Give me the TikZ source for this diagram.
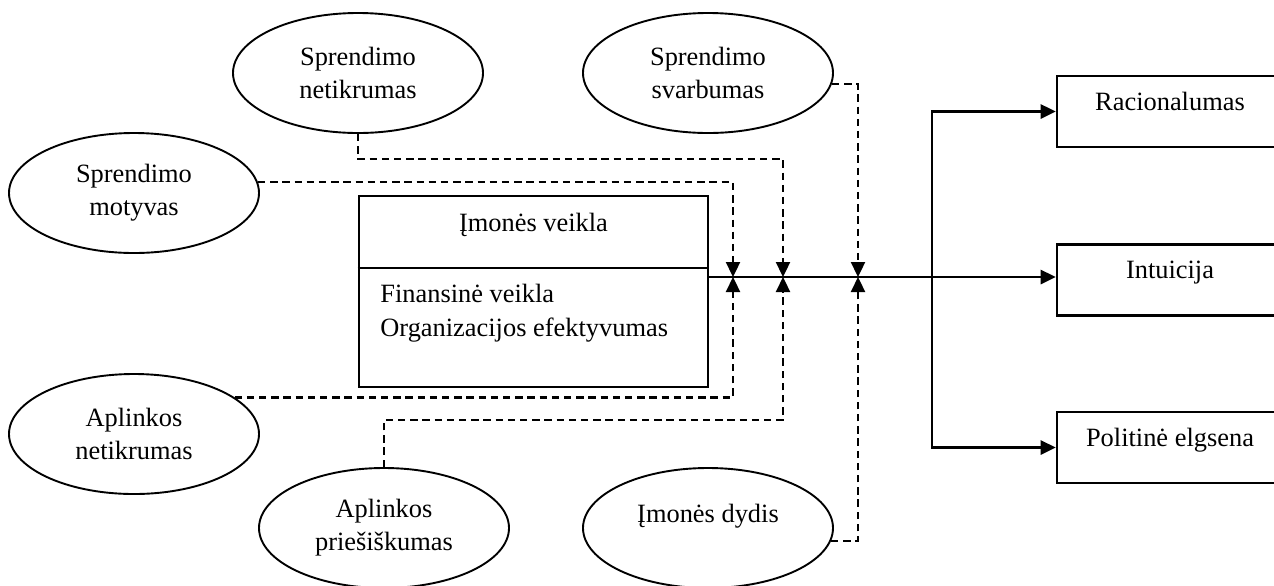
\documentclass[tikz,border=0pt]{standalone}
\usepackage{fontspec}
\setmainfont{Liberation Serif}
\usetikzlibrary{arrows.meta,shapes.geometric}
\begin{document}
\begin{tikzpicture}[x=0.5pt,y=-0.5pt,
  every node/.style={font=\fontsize{13.2}{16.5}\selectfont},
  ell/.style={draw,ellipse,line width=0.95pt,minimum width=125pt,minimum height=60pt,inner sep=0pt},
  twoline/.style={align=center},
  rbox/.style={draw,line width=1.3pt,minimum width=113pt,inner xsep=0pt,inner ysep=0pt,text height=17pt,text depth=18.5pt},
  dsh/.style={line width=1.15pt,dash pattern=on 3.7pt off 2.4pt},
  solidln/.style={line width=1.35pt},
  tip/.style={-{Triangle[length=7.5pt,width=7pt]}},
]
\useasboundingbox (0,0) rectangle (1274,585);
\clip (0,0) rectangle (1274,585);

% ellipses
\node[ell,twoline] (sn) at (358,73) {Sprendimo\\netikrumas};
\node[ell,twoline] (ss) at (708,73) {Sprendimo\\svarbumas};
\node[ell,twoline] (sm) at (134,193) {Sprendimo\\motyvas};
\node[ell,twoline] (an) at (134,434) {Aplinkos\\netikrumas};
\node[ell,twoline] (ap) at (384,528) {Aplinkos\\priešiškumas};
\node[ell,text height=8.5pt,text depth=14pt] (id) at (708,528) {Įmonės dydis};

% main box
\node[draw,line width=1.3pt,minimum width=174.5pt,minimum height=95.5pt,inner sep=0pt] (mb) at (533.5,291.5) {};
\coordinate (dv) at (0,268);
\draw[line width=1.3pt] (mb.west |- dv) -- (mb.east |- dv);
\node (mbt) at (533.5,225) {Įmonės veikla};
\node[anchor=north west,inner sep=0pt,align=left,font=\fontsize{13.2}{17.25}\selectfont] (mbb) at (380,283.5) {Finansinė veikla\\Organizacijos efektyvumas};

% right boxes
\node[rbox] (rac) at (1170,111.5) {Racionalumas};
\node[rbox] (int) at (1170,280) {Intuicija};
\node[rbox] (pol) at (1170,447.5) {Politinė elgsena};

% junctions
\coordinate (j1) at (733,277);
\coordinate (j2) at (783,277);
\coordinate (j3) at (858,277);
\coordinate (fk) at (932,277);

% solid connectors
\draw[solidln,tip] (mb.east |- j1) -- (int.west |- j1);
\draw[solidln,tip] (fk) |- (rac.west);
\draw[solidln,tip] (fk) |- (pol.west);

% dashed connectors
\draw[dsh,tip] (sm.5) -| (j1);
\draw[dsh,tip] (sn.south) -- ++(0,25) -| (j2);
\draw[dsh,tip] (ss.-5.5) -| (j3);
\draw[dsh,tip] (an.20.6) -| (j1);
\draw[dsh,tip] (ap.north) -- ++(0,-47) -| (j2);
\draw[dsh,tip] (id.-6.6) -| (j3);
\end{tikzpicture}
\end{document}
